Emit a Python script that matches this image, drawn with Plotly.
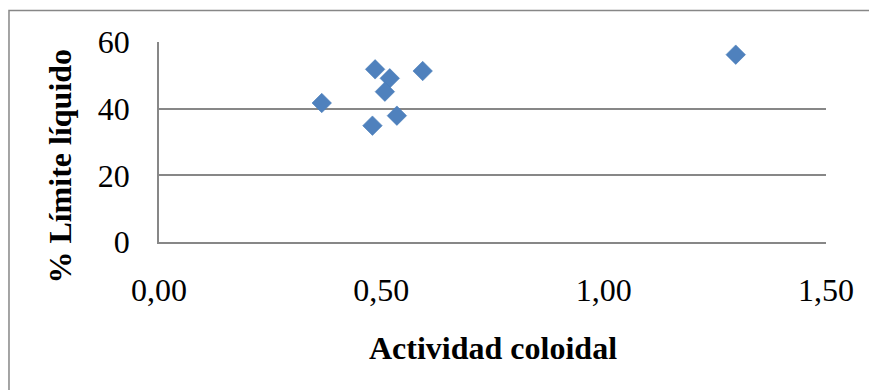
import plotly.graph_objects as go

# Colloidal activity vs. liquid limit (%)
actividad_coloidal = [0.366, 0.486, 0.519, 0.508, 0.593, 0.535, 0.480, 1.297]
limite_liquido = [41.7, 51.8, 49.1, 45.1, 51.3, 37.9, 34.9, 56.2]

x_tick_vals = [0.0, 0.5, 1.0, 1.5]
x_tick_text = ["0,00", "0,50", "1,00", "1,50"]
y_tick_vals = [0, 20, 40, 60]
y_tick_text = ["0", "20", "40", "60"]

FONT = "Liberation Serif, Times New Roman, serif"
GRID = "#878787"
FS = 32

fig = go.Figure(
    go.Scatter(
        x=actividad_coloidal,
        y=limite_liquido,
        mode="markers",
        marker=dict(symbol="diamond", size=15, color="#4F81BD",
                    line=dict(width=0.6, color="#4A7EBB")),
        showlegend=False,
    )
)

fig.update_layout(
    width=869,
    height=390,
    margin=dict(l=159, r=43, t=42, b=148),
    paper_bgcolor="white",
    plot_bgcolor="white",
    font=dict(family=FONT, size=FS, color="black"),
    xaxis=dict(
        range=[0, 1.5],
        tickvals=x_tick_vals,
        ticktext=x_tick_text,
        showgrid=False,
        zeroline=False,
        showline=True,
        linecolor=GRID,
        linewidth=1.5,
        ticks="outside",
        ticklen=19,
        tickcolor="rgba(0,0,0,0)",
        tickfont=dict(family=FONT, size=FS, color="black"),
    ),
    yaxis=dict(
        range=[0, 60],
        tickvals=y_tick_vals,
        ticktext=y_tick_text,
        showgrid=True,
        gridcolor=GRID,
        gridwidth=1.5,
        zeroline=False,
        showline=True,
        linecolor=GRID,
        linewidth=1.5,
        ticks="outside",
        ticklen=21,
        tickcolor="rgba(0,0,0,0)",
        tickfont=dict(family=FONT, size=FS, color="black"),
    ),
    annotations=[
        dict(
            text="<b>Actividad coloidal</b>",
            xref="paper", yref="paper",
            x=0.5, y=-0.529,
            xanchor="center", yanchor="middle",
            showarrow=False,
            font=dict(family=FONT, size=FS, color="black"),
        ),
        dict(
            text="<b>% Límite líquido</b>",
            xref="paper", yref="paper",
            x=-0.149, y=0.38,
            xanchor="center", yanchor="middle",
            textangle=-90,
            showarrow=False,
            font=dict(family=FONT, size=FS, color="black"),
        ),
    ],
    shapes=[
        # chart frame (right and bottom edges run past the page)
        dict(
            type="rect", xref="paper", yref="paper",
            x0=-0.2249, y0=-0.9, x1=1.2, y1=1.157,
            line=dict(color=GRID, width=1.5),
            fillcolor="rgba(0,0,0,0)",
            layer="below",
        )
    ],
)

fig.write_html("out.html")
